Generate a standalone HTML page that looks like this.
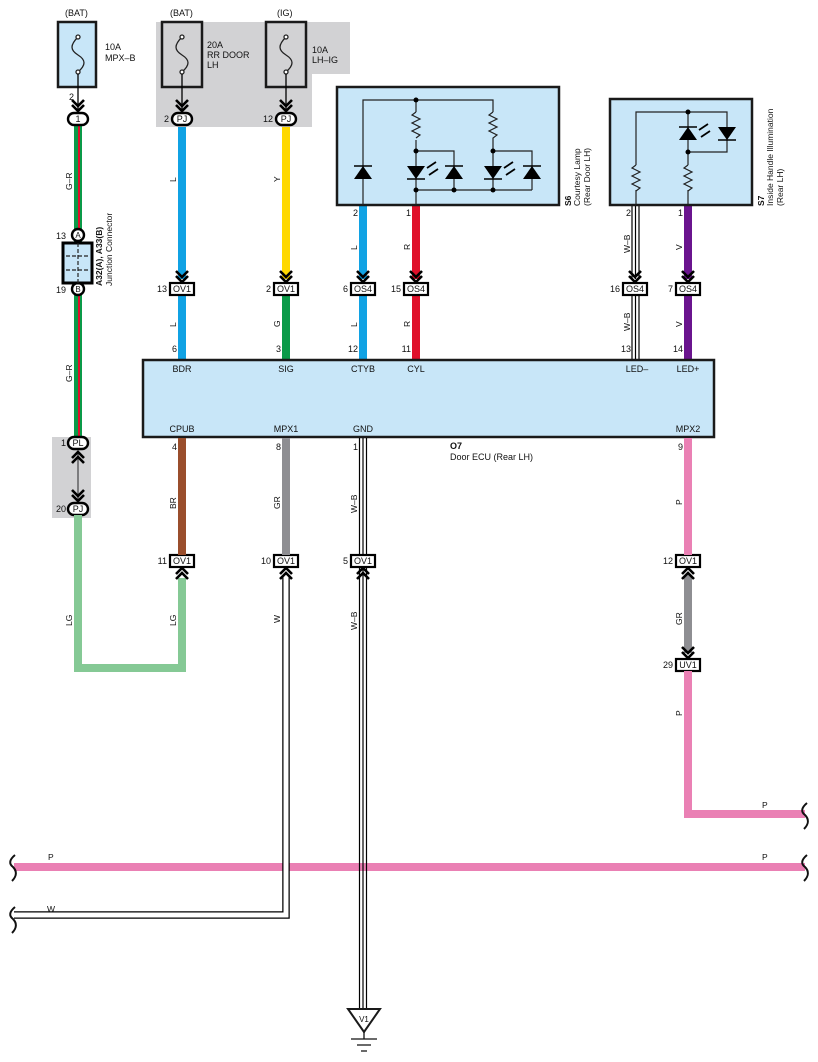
<!DOCTYPE html>
<html><head><meta charset="utf-8"><style>
html,body{margin:0;padding:0;background:#fff;}
svg{display:block;font-family:"Liberation Sans",Arial,sans-serif;}
</style></head><body>
<svg width="818" height="1062" viewBox="0 0 818 1062" xmlns="http://www.w3.org/2000/svg">
<defs>
<g id="chd"><path d="M-6,-11 L0,-5 L6,-11 M-6,-6 L0,0 L6,-6" fill="none" stroke="#000" stroke-width="2.6"/></g>
<g id="chu"><path d="M-6,11 L0,5 L6,11 M-6,6 L0,0 L6,6" fill="none" stroke="#000" stroke-width="2.6"/></g>
<g id="dup"><path d="M-9,7 L9,7 L0,-6 Z" fill="#000"/><path d="M-9,-6 L9,-6" stroke="#000" stroke-width="1.5"/></g>
<g id="ddn"><path d="M-9,-6 L9,-6 L0,7 Z" fill="#000"/><path d="M-9,7 L9,7" stroke="#000" stroke-width="1.5"/></g>
</defs>

<path d="M156,22 H350 V74 H312 V127 H156 Z" fill="#d2d2d4"/>
<rect x="52" y="437" width="39" height="81" fill="#d2d2d4"/>

<g stroke="#1a1a1a" stroke-width="2.5">
<rect x="58" y="22" width="38" height="65" fill="#c8e6f8"/>
<rect x="162" y="22" width="40" height="65" fill="#d2d2d4"/>
<rect x="266" y="22" width="40" height="65" fill="#d2d2d4"/>
</g>
<g fill="none" stroke="#222" stroke-width="1.3">
<path d="M78,37 C70,45 70,50 78,55 C86,60 86,65 78,72"/>
<path d="M182,37 C174,45 174,50 182,55 C190,60 190,65 182,72"/>
<path d="M286,37 C278,45 278,50 286,55 C294,60 294,65 286,72"/>
<circle cx="78" cy="37" r="2" fill="#fff"/><circle cx="78" cy="72" r="2" fill="#fff"/>
<circle cx="182" cy="37" r="2" fill="#fff"/><circle cx="182" cy="72" r="2" fill="#fff"/>
<circle cx="286" cy="37" r="2" fill="#fff"/><circle cx="286" cy="72" r="2" fill="#fff"/>
<path d="M78,74 V110 M182,74 V110 M286,74 V110" stroke="#000"/>
</g>
<use href="#chd" x="78" y="111"/><use href="#chd" x="182" y="111"/><use href="#chd" x="286" y="111"/>

<g font-size="9" fill="#111">
<text x="65" y="16">(BAT)</text><text x="170" y="16">(BAT)</text><text x="277" y="16">(IG)</text>
<text x="105" y="50">10A</text><text x="105" y="61">MPX–B</text>
<text x="207" y="48">20A</text><text x="207" y="58">RR DOOR</text><text x="207" y="68">LH</text>
<text x="312" y="53">10A</text><text x="312" y="63">LH–IG</text>
</g>

<rect x="74" y="125" width="8" height="312" fill="#0a9a48"/>
<rect x="78" y="125" width="2" height="312" fill="#e0102a"/>
<rect x="178" y="127" width="8" height="152" fill="#10a2e4"/>
<rect x="282" y="127" width="8" height="152" fill="#ffd800"/>
<rect x="178" y="295" width="8" height="65" fill="#10a2e4"/>
<rect x="282" y="295" width="8" height="65" fill="#0a9a48"/>
<rect x="359" y="205" width="8" height="74" fill="#10a2e4"/>
<rect x="359" y="295" width="8" height="65" fill="#10a2e4"/>
<rect x="412" y="205" width="8" height="74" fill="#e0102a"/>
<rect x="412" y="295" width="8" height="65" fill="#e0102a"/>
<rect x="684" y="205" width="8" height="74" fill="#6a148e"/>
<rect x="684" y="295" width="8" height="65" fill="#6a148e"/>
<g stroke="#000" stroke-width="1.2" fill="none">
<path d="M632,205 V279 M639,205 V279 M635.5,205 V279"/>
<path d="M632,295 V360 M639,295 V360 M635.5,295 V360"/>
</g>
<use href="#chd" x="182" y="282"/><use href="#chd" x="286" y="282"/>
<use href="#chd" x="363" y="282"/><use href="#chd" x="416" y="282"/>
<use href="#chd" x="635" y="282"/><use href="#chd" x="688" y="282"/>

<g stroke="#000" stroke-width="2.4" fill="#fff">
<rect x="68" y="113" width="20" height="12" rx="6"/>
<rect x="172" y="113" width="20" height="12" rx="6"/>
<rect x="276" y="113" width="20" height="12" rx="6"/>
<rect x="68" y="437" width="20" height="12" rx="6"/>
<rect x="68" y="503" width="20" height="12" rx="6"/>
<circle cx="78" cy="235" r="6"/><circle cx="78" cy="289" r="6"/>
<rect x="63" y="243" width="29" height="40" fill="#c8e6f8" stroke-width="3"/>
</g>
<path d="M78,243 V283 M66,256 H90 M66,270 H90" stroke="#222" stroke-width="1.2" stroke-dasharray="4,2"/>
<g font-size="9" fill="#111" text-anchor="middle">
<text x="78" y="122">1</text><text x="182" y="122">PJ</text><text x="286" y="122">PJ</text>
<text x="78" y="446">PL</text><text x="78" y="512">PJ</text>
<text x="78" y="238" font-size="8">A</text><text x="78" y="292" font-size="8">B</text>
</g>
<g font-size="9" fill="#111" text-anchor="end">
<text x="74" y="100">2</text><text x="169" y="122">2</text><text x="273" y="122">12</text>
<text x="66" y="239">13</text><text x="66" y="293">19</text>
<text x="66" y="446">1</text><text x="66" y="512">20</text>
</g>
<text transform="translate(102,286) rotate(-90)" font-size="8.5" font-weight="bold" fill="#111">A32(A), A33(B)</text>
<text transform="translate(112,286) rotate(-90)" font-size="8.5" fill="#111">Junction Connector</text>

<path d="M78,452 V500" stroke="#444" stroke-width="1.2"/>
<use href="#chu" x="78" y="452"/><use href="#chd" x="78" y="501"/>

<rect x="337" y="87" width="222" height="118" fill="#c8e6f8" stroke="#1a1a1a" stroke-width="2.5"/>
<g stroke="#222" stroke-width="1.2" fill="none">
<path d="M363,205 V100 H493 V112 M416,100 V112 M416,140 V205"/>
<path d="M416,112 l-4,3 l8,4 l-8,4 l8,4 l-8,4 l8,4 l-4,3"/>
<path d="M493,112 l-4,3 l8,4 l-8,4 l8,4 l-8,4 l8,4 l-4,3 V190"/>
<path d="M416,151 H454 V190 M493,151 H532 V190 M416,190 H532"/>
</g>
<g stroke="#000" stroke-width="1.8" fill="none">
<path d="M427,168 l9,-6 M429,175 l9,-6 M504,168 l9,-6 M506,175 l9,-6"/>
</g>
<g fill="#000"><circle cx="416" cy="100" r="2.5"/><circle cx="416" cy="151" r="2.5"/><circle cx="416" cy="190" r="2.5"/><circle cx="454" cy="190" r="2.5"/><circle cx="493" cy="151" r="2.5"/><circle cx="493" cy="190" r="2.5"/></g>
<use href="#dup" x="363" y="172"/><use href="#ddn" x="416" y="172"/><use href="#dup" x="454" y="172"/>
<use href="#ddn" x="493" y="172"/><use href="#dup" x="532" y="172"/>
<text transform="translate(571,206) rotate(-90)" font-size="8.5" font-weight="bold" fill="#111">S6</text>
<text transform="translate(580,206) rotate(-90)" font-size="8.5" fill="#111">Courtesy Lamp</text>
<text transform="translate(590,206) rotate(-90)" font-size="8.5" fill="#111">(Rear Door LH)</text>

<rect x="610" y="99" width="142" height="106" fill="#c8e6f8" stroke="#1a1a1a" stroke-width="2.5"/>
<g stroke="#222" stroke-width="1.2" fill="none">
<path d="M636,205 V190 M636,165 V112 H727 V152 H688 M688,112 V165 M688,190 V205"/>
<path d="M636,165 l-4,3 l8,4 l-8,4 l8,4 l-8,4 l8,4 l-4,3"/>
<path d="M688,165 l-4,3 l8,4 l-8,4 l8,4 l-8,4 l8,4 l-4,3"/>
</g>
<path d="M699,130 l9,-6 M701,137 l9,-6" stroke="#000" stroke-width="1.8"/>
<g fill="#000"><circle cx="688" cy="112" r="2.5"/><circle cx="688" cy="152" r="2.5"/></g>
<use href="#dup" x="688" y="133"/><use href="#ddn" x="727" y="133"/>
<text transform="translate(764,206) rotate(-90)" font-size="8.5" font-weight="bold" fill="#111">S7</text>
<text transform="translate(773,206) rotate(-90)" font-size="8.5" fill="#111">Inside Handle Illumination</text>
<text transform="translate(783,206) rotate(-90)" font-size="8.5" fill="#111">(Rear LH)</text>

<g font-size="9" fill="#111" text-anchor="end">
<text x="358" y="216">2</text><text x="411" y="216">1</text><text x="631" y="216">2</text><text x="683" y="216">1</text>
<text x="177" y="352">6</text><text x="281" y="352">3</text><text x="358" y="352">12</text><text x="411" y="352">11</text>
<text x="631" y="352">13</text><text x="683" y="352">14</text>
<text x="177" y="450">4</text><text x="281" y="450">8</text><text x="358" y="450">1</text><text x="683" y="450">9</text>
</g>

<g stroke="#000" stroke-width="2.2" fill="#fff">
<rect x="170" y="283" width="24" height="12"/><rect x="274" y="283" width="24" height="12"/>
<rect x="351" y="283" width="24" height="12"/><rect x="404" y="283" width="24" height="12"/>
<rect x="623" y="283" width="24" height="12"/><rect x="676" y="283" width="24" height="12"/>
<rect x="170" y="555" width="24" height="12"/><rect x="274" y="555" width="24" height="12"/>
<rect x="351" y="555" width="24" height="12"/><rect x="676" y="555" width="24" height="12"/>
<rect x="676" y="659" width="24" height="12"/>
</g>
<g font-size="9" fill="#111" text-anchor="middle">
<text x="182" y="292">OV1</text><text x="286" y="292">OV1</text><text x="363" y="292">OS4</text><text x="416" y="292">OS4</text>
<text x="635" y="292">OS4</text><text x="688" y="292">OS4</text>
<text x="182" y="564">OV1</text><text x="286" y="564">OV1</text><text x="363" y="564">OV1</text><text x="688" y="564">OV1</text>
<text x="688" y="668">UV1</text>
</g>
<g font-size="9" fill="#111" text-anchor="end">
<text x="167" y="292">13</text><text x="271" y="292">2</text><text x="348" y="292">6</text><text x="401" y="292">15</text>
<text x="620" y="292">16</text><text x="673" y="292">7</text>
<text x="167" y="564">11</text><text x="271" y="564">10</text><text x="348" y="564">5</text><text x="673" y="564">12</text>
<text x="673" y="668">29</text>
</g>

<rect x="143" y="360" width="571" height="77" fill="#c8e6f8" stroke="#1a1a1a" stroke-width="2.5"/>
<g font-size="9" fill="#111" text-anchor="middle">
<text x="182" y="372">BDR</text><text x="286" y="372">SIG</text><text x="363" y="372">CTYB</text><text x="416" y="372">CYL</text>
<text x="637" y="372">LED–</text><text x="688" y="372">LED+</text>
<text x="182" y="432">CPUB</text><text x="286" y="432">MPX1</text><text x="363" y="432">GND</text><text x="688" y="432">MPX2</text>
</g>
<text x="450" y="449" font-size="9" font-weight="bold" fill="#111">O7</text>
<text x="450" y="460" font-size="9" fill="#111">Door ECU (Rear LH)</text>

<rect x="178" y="438" width="8" height="117" fill="#9a4e2c"/>
<rect x="282" y="438" width="8" height="117" fill="#8e8e92"/>
<rect x="684" y="438" width="8" height="117" fill="#ea80b4"/>
<rect x="684" y="575" width="8" height="78" fill="#8e8e92"/>
<path d="M78,515 V668 H182 V578" fill="none" stroke="#85c995" stroke-width="8"/>
<path d="M688,671 V814 H805" fill="none" stroke="#ea80b4" stroke-width="8"/>
<rect x="14" y="863" width="791" height="8" fill="#ea80b4"/>
<path d="M14,915 H286 V575" fill="none" stroke="#000" stroke-width="7.5"/>
<path d="M14,915 H286 V575" fill="none" stroke="#fff" stroke-width="5"/>
<g stroke="#000" stroke-width="1.2">
<path d="M359.5,438 V555 M366.5,438 V555 M363,438 V555"/>
<path d="M359.5,567 V1010 M366.5,567 V1010 M363,567 V1010"/>
</g>
<use href="#chu" x="182" y="568"/><use href="#chu" x="286" y="568"/><use href="#chu" x="363" y="568"/>
<use href="#chu" x="688" y="568"/><use href="#chd" x="688" y="658"/>
<path d="M348,1009 H380 L364,1032 Z" fill="#fff" stroke="#1a1a1a" stroke-width="2"/>
<text x="364" y="1022" font-size="8" text-anchor="middle" fill="#111">V1</text>
<path d="M364,1032 V1039 M351,1039 H377 M357,1045 H371 M361,1051 H367" stroke="#111" stroke-width="1.3"/>

<g fill="none" stroke="#111" stroke-width="2">
<path d="M15,855 C9,860 9,864 13,867 C17,871 17,876 12,881"/>
<path d="M15,907 C9,912 9,916 13,919 C17,923 17,928 12,933"/>
<path d="M807,803 C801,808 801,812 805,815 C809,819 809,824 804,829"/>
<path d="M807,855 C801,860 801,864 805,867 C809,871 809,876 804,881"/>
</g>

<g font-size="8.5" fill="#111">
<text transform="translate(72,190) rotate(-90)">G–R</text>
<text transform="translate(72,382) rotate(-90)">G–R</text>
<text transform="translate(176,182) rotate(-90)">L</text>
<text transform="translate(280,182) rotate(-90)">Y</text>
<text transform="translate(357,250) rotate(-90)">L</text>
<text transform="translate(410,250) rotate(-90)">R</text>
<text transform="translate(630,253) rotate(-90)">W–B</text>
<text transform="translate(682,250) rotate(-90)">V</text>
<text transform="translate(176,327) rotate(-90)">L</text>
<text transform="translate(280,327) rotate(-90)">G</text>
<text transform="translate(357,327) rotate(-90)">L</text>
<text transform="translate(410,327) rotate(-90)">R</text>
<text transform="translate(630,331) rotate(-90)">W–B</text>
<text transform="translate(682,327) rotate(-90)">V</text>
<text transform="translate(176,509) rotate(-90)">BR</text>
<text transform="translate(280,509) rotate(-90)">GR</text>
<text transform="translate(357,513) rotate(-90)">W–B</text>
<text transform="translate(682,505) rotate(-90)">P</text>
<text transform="translate(72,626) rotate(-90)">LG</text>
<text transform="translate(176,626) rotate(-90)">LG</text>
<text transform="translate(280,623) rotate(-90)">W</text>
<text transform="translate(357,630) rotate(-90)">W–B</text>
<text transform="translate(682,625) rotate(-90)">GR</text>
<text transform="translate(682,716) rotate(-90)">P</text>
<text x="762" y="808">P</text>
<text x="762" y="860">P</text>
<text x="48" y="860">P</text>
<text x="47" y="912">W</text>
</g>
</svg>
</body></html>
